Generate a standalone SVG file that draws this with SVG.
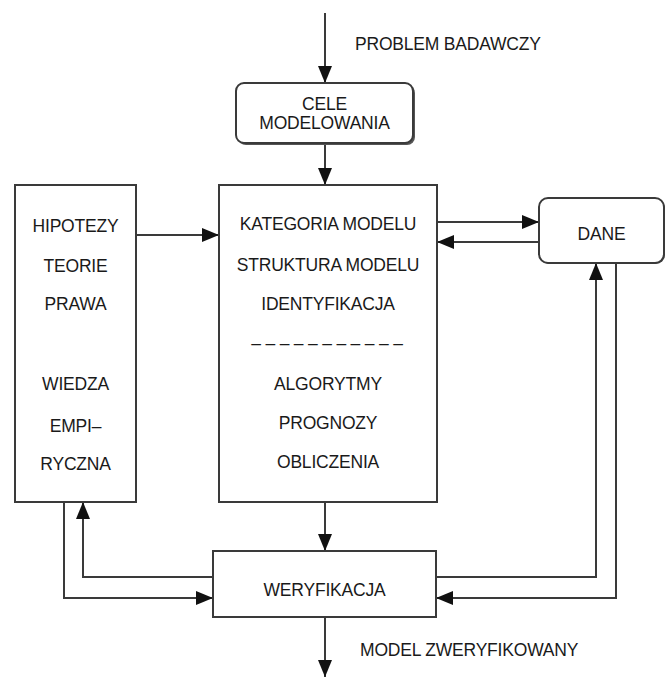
<svg xmlns="http://www.w3.org/2000/svg" width="670" height="677" viewBox="0 0 670 677">
<defs>
<marker id="ah" markerUnits="userSpaceOnUse" markerWidth="18" markerHeight="14" refX="17" refY="7" orient="auto">
<path d="M0,0 L17,7 L0,14 z" fill="#111"/>
</marker>
<style>
.box{fill:#fff;stroke:#3a3a3a;stroke-width:2}
.shadow{fill:#555;stroke:none}
.t{font-family:"Liberation Sans",Arial,sans-serif;font-size:17.5px;fill:#1a1a1a;text-anchor:middle;letter-spacing:-0.2px}
.tl{font-family:"Liberation Sans",Arial,sans-serif;font-size:17.5px;fill:#1a1a1a;text-anchor:start;letter-spacing:-0.2px}
.c{fill:none;stroke:#3a3a3a;stroke-width:2;marker-end:url(#ah)}
</style>
</defs>
<rect width="670" height="677" fill="#fff"/>
<g id="connectors">
<path class="c" d="M325,13 L325,83"/>
<path class="c" d="M325,143 L325,185"/>
<path class="c" d="M136,235 L219,235"/>
<path class="c" d="M437,222 L539,222"/>
<path class="c" d="M539,242 L437,242"/>
<path class="c" d="M325,502 L325,551"/>
<path class="c" d="M213,577 L83,577 L83,502"/>
<path class="c" d="M64,502 L64,598 L213,598"/>
<path class="c" d="M436,577 L596,577 L596,263"/>
<path class="c" d="M616,263 L616,598 L436,598"/>
<path class="c" d="M325,617 L325,677"/>
</g>
<g id="label-problem">
<text class="tl" x="355" y="50">PROBLEM BADAWCZY</text>
</g>
<g id="node-cele">
<rect class="shadow" x="238" y="85" width="177" height="60" rx="8"/>
<rect class="box" x="236" y="83" width="177" height="60" rx="8"/>
<text class="t" x="324.5" y="110">CELE</text>
<text class="t" x="324.5" y="129">MODELOWANIA</text>
</g>
<g id="node-hipotezy">
<rect class="box" x="15" y="185" width="121" height="317"/>
<text class="t" x="75.5" y="232">HIPOTEZY</text>
<text class="t" x="75.5" y="272">TEORIE</text>
<text class="t" x="75.5" y="310">PRAWA</text>
<text class="t" x="75.5" y="390">WIEDZA</text>
<text class="t" x="75.5" y="432">EMPI–</text>
<text class="t" x="75.5" y="470">RYCZNA</text>
</g>
<g id="node-model">
<rect class="box" x="219" y="185" width="218" height="317"/>
<text class="t" x="328" y="230">KATEGORIA MODELU</text>
<text class="t" x="328" y="271">STRUKTURA MODELU</text>
<text class="t" x="328" y="310">IDENTYFIKACJA</text>
<text class="t" x="327" y="349">– – – – – – – – – – –</text>
<text class="t" x="328" y="390">ALGORYTMY</text>
<text class="t" x="328" y="429">PROGNOZY</text>
<text class="t" x="328" y="468">OBLICZENIA</text>
</g>
<g id="node-dane">
<rect class="shadow" x="540" y="199" width="125" height="65" rx="9"/>
<rect class="box" x="539" y="198" width="125" height="65" rx="9"/>
<text class="t" x="601.5" y="240">DANE</text>
</g>
<g id="node-weryfikacja">
<rect class="box" x="213" y="551" width="223" height="66"/>
<text class="t" x="324.5" y="596">WERYFIKACJA</text>
</g>
<g id="label-model">
<text class="tl" x="360" y="656">MODEL ZWERYFIKOWANY</text>
</g>
</svg>
